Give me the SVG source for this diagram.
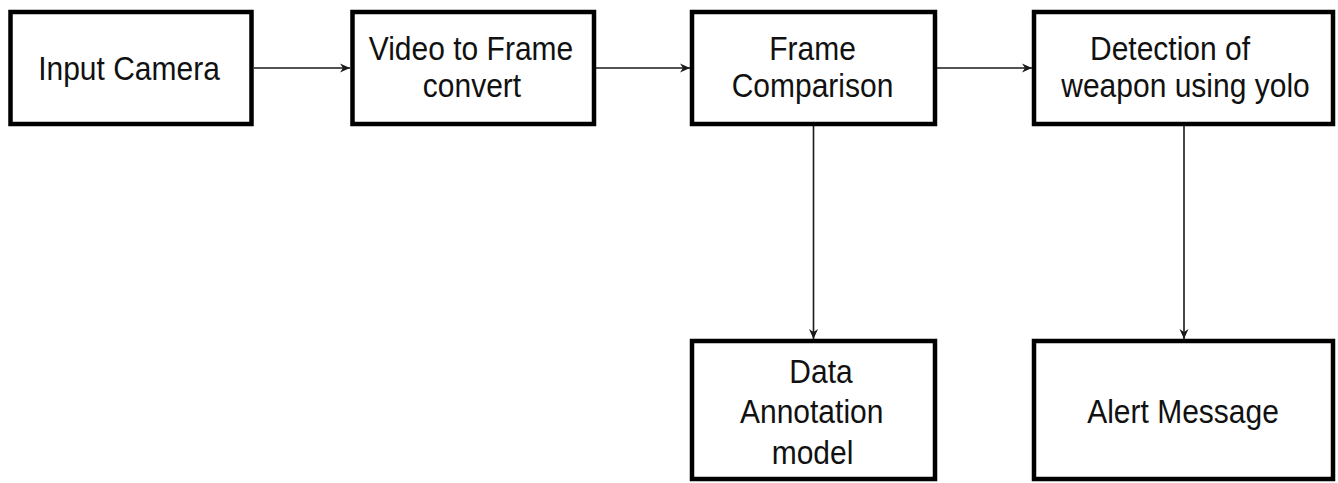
<svg xmlns="http://www.w3.org/2000/svg" width="1338" height="483" viewBox="0 0 1338 483">
  <style>
    .box { fill: #ffffff; stroke: #000000; stroke-width: 4.5; }
    .lbl { font-family: "Liberation Sans", Arial, sans-serif; font-size: 30px; fill: #111111; text-anchor: middle; }
    .wire { fill: none; stroke: #1a1a1a; stroke-width: 1.6; }
  </style>
  <defs>
    <marker id="arrow" viewBox="0 0 10 10" refX="10" refY="5" markerWidth="10" markerHeight="10" markerUnits="userSpaceOnUse" orient="auto">
      <path d="M0,0.5 L10,5 L0,9.5 L3,5 z" fill="#1a1a1a"/>
    </marker>
  </defs>
  <rect width="1338" height="483" fill="#ffffff"/>

  <!-- connectors -->
  <g id="connectors">
    <line class="wire" x1="254" y1="68" x2="350" y2="68" marker-end="url(#arrow)"/>
    <line class="wire" x1="596" y1="68" x2="690" y2="68" marker-end="url(#arrow)"/>
    <line class="wire" x1="937" y1="68" x2="1032" y2="68" marker-end="url(#arrow)"/>
    <line class="wire" x1="813.5" y1="126" x2="813.5" y2="339" marker-end="url(#arrow)"/>
    <line class="wire" x1="1184" y1="126" x2="1184" y2="339" marker-end="url(#arrow)"/>
  </g>

  <!-- nodes -->
  <g id="input-camera">
    <rect class="box" x="10.5" y="12" width="241" height="112"/>
    <text class="lbl" transform="translate(129,80) scale(1,1.12)">Input Camera</text>
  </g>
  <g id="video-to-frame">
    <rect class="box" x="352.5" y="12" width="241.5" height="112"/>
    <text class="lbl" transform="translate(471,59.5) scale(1,1.12)">Video to Frame</text>
    <text class="lbl" transform="translate(472,97) scale(1,1.12)">convert</text>
  </g>
  <g id="frame-comparison">
    <rect class="box" x="692" y="12" width="243" height="112"/>
    <text class="lbl" transform="translate(812.5,59.5) scale(1,1.12)">Frame</text>
    <text class="lbl" transform="translate(812.5,97) scale(1,1.12)">Comparison</text>
  </g>
  <g id="weapon-detection">
    <rect class="box" x="1034" y="12" width="299" height="112"/>
    <text class="lbl" transform="translate(1170,59.5) scale(1,1.12)">Detection of</text>
    <text class="lbl" transform="translate(1185.5,97) scale(1,1.12)">weapon using yolo</text>
  </g>
  <g id="data-annotation">
    <rect class="box" x="692" y="341" width="243" height="138"/>
    <text class="lbl" transform="translate(821,383) scale(1,1.12)">Data</text>
    <text class="lbl" transform="translate(811.7,423) scale(1,1.12)">Annotation</text>
    <text class="lbl" transform="translate(812.5,463.5) scale(1,1.12)">model</text>
  </g>
  <g id="alert-message">
    <rect class="box" x="1034" y="341" width="299" height="138"/>
    <text class="lbl" transform="translate(1183,422.5) scale(1,1.12)">Alert Message</text>
  </g>
</svg>
